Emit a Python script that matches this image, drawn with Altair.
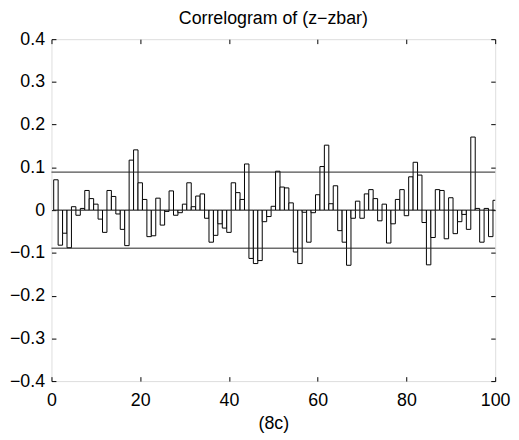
import altair as alt
import pandas as pd

lags = list(range(1, 101))
acf = [0.071, -0.082, -0.054, -0.088, 0.008, -0.012, 0.004, 0.046, 0.027, 0.014,
       -0.021, -0.052, 0.046, 0.032, -0.009, -0.045, -0.083, 0.117, 0.141, 0.064,
       0.025, -0.062, -0.060, 0.028, -0.035, -0.003, 0.045, -0.012, -0.006, 0.014,
       0.064, 0.008, 0.033, 0.038, -0.019, -0.075, -0.059, -0.032, -0.042, -0.052,
       0.064, 0.041, 0.025, 0.108, -0.113, -0.125, -0.118, -0.027, -0.015, 0.009,
       0.091, 0.054, 0.052, 0.017, -0.098, -0.125, -0.005, -0.075, -0.006, 0.036,
       0.102, 0.152, 0.015, 0.057, -0.048, -0.075, -0.129, -0.019, 0.021, -0.019,
       0.038, 0.048, 0.027, -0.025, 0.014, -0.077, -0.032, 0.025, 0.048, -0.013,
       0.078, 0.112, 0.082, -0.029, -0.128, -0.064, 0.048, 0.046, -0.067, 0.029,
       -0.055, -0.027, -0.010, -0.045, 0.171, 0.004, -0.075, 0.004, -0.062, 0.023]
bounds = [0.089, -0.089]
x_ticks = [0, 20, 40, 60, 80, 100]
y_ticks = [-0.4, -0.3, -0.2, -0.1, 0.0, 0.1, 0.2, 0.3, 0.4]

FONT = "Liberation Sans"
FS = 18
TICK = 4.5

df = pd.DataFrame({"lag": lags, "acf": acf})
bdf = pd.DataFrame({"b": bounds})

xscale = alt.Scale(domain=[0, 100], nice=False, zero=False)
yscale = alt.Scale(domain=[-0.4, 0.4], nice=False, zero=False)

y_label_expr = "datum.value == 0 ? '0' : replace(format(datum.value, '.1f'), '-', '\u2212')"

axis_common = dict(domain=False, grid=False, tickSize=TICK, offset=-TICK,
                   tickColor="black", tickWidth=1, labelFont=FONT,
                   labelFontSize=FS, labelColor="black", titleFont=FONT,
                   titleFontSize=FS, titleColor="black", titleFontWeight="normal",
                   labelOverlap=False, labelFlush=False, labelBound=False)

x_bottom = alt.Axis(orient="bottom", values=x_ticks, labelPadding=11,
                    title="(8c)", titlePadding=5, **axis_common)
y_left = alt.Axis(orient="left", values=y_ticks, labelPadding=7,
                  labelExpr=y_label_expr, title=None, **axis_common)
x_top = alt.Axis(orient="top", values=x_ticks, labels=False, title=None,
                 **axis_common)
y_right = alt.Axis(orient="right", values=y_ticks, labels=False, title=None,
                   **axis_common)

bars = alt.Chart(df).transform_calculate(
    x0="datum.lag - 0.5", x1="datum.lag + 0.5"
).mark_bar(fill="white", stroke="black", strokeWidth=1, clip=True).encode(
    x=alt.X("x0:Q", scale=xscale, axis=x_bottom),
    x2="x1:Q",
    y=alt.Y("acf:Q", scale=yscale, axis=y_left),
    y2=alt.datum(0),
)

frame_axes = alt.Chart(df).mark_point(opacity=0).encode(
    x=alt.X("lag:Q", scale=xscale, axis=x_top),
    y=alt.Y("acf:Q", scale=yscale, axis=y_right),
)

rules = alt.Chart(bdf).mark_rule(color="#222222", strokeWidth=1).encode(
    y=alt.Y("b:Q", scale=yscale, axis=None)
)

chart = alt.layer(bars, rules, frame_axes).resolve_axis(
    x="independent", y="independent"
).properties(
    width=449,
    height=346,
    title=alt.Title("Correlogram of (z\u2212zbar)", font=FONT, fontSize=FS,
                    fontWeight="normal", color="black", anchor="middle",
                    offset=2),
    padding={"left": 44, "top": 29, "right": 16, "bottom": 52},
    autosize=alt.AutoSizeParams(type="none"),
).configure_view(stroke="black", strokeWidth=1).configure(background="white")

chart.save("out.html", embed_options={"renderer": "svg", "actions": False})
